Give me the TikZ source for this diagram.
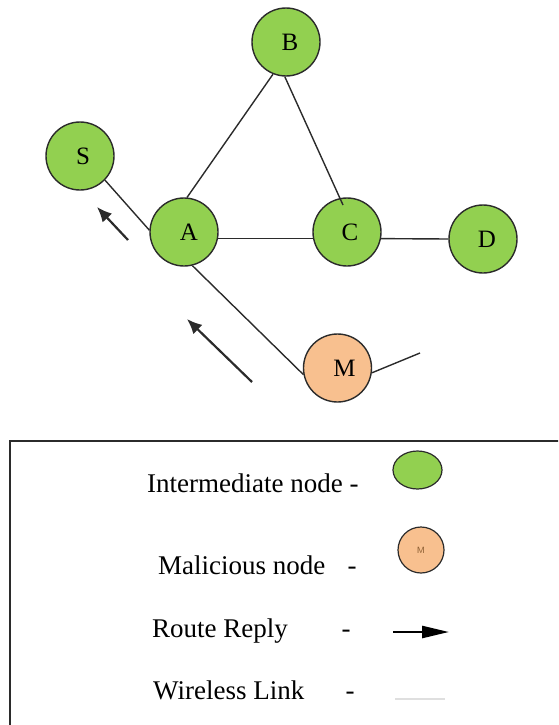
\documentclass[tikz,border=0pt]{standalone}
\usepackage{fontspec}
\setmainfont{Liberation Serif}
\usetikzlibrary{arrows.meta,calc,shapes.geometric}
\definecolor{nodegreen}{HTML}{92D050}
\definecolor{nodeorange}{HTML}{F8C08F}
\definecolor{edgecol}{HTML}{2B2B2B}
\begin{document}
\begin{tikzpicture}[x=1pt,y=-1pt,
  netnode/.style={circle,draw=edgecol,line width=1.4pt,minimum size=68pt,inner sep=0pt,
    font=\fontsize{25}{28}\selectfont},
  goodnode/.style={netnode,fill=nodegreen},
  badnode/.style={netnode,fill=nodeorange},
  link/.style={draw=edgecol,line width=1.4pt},
  reply/.style={draw=edgecol,line width=2.2pt,-{Latex[length=15pt,width=13pt]}},
  legtext/.style={anchor=base west,inner sep=0pt,font=\fontsize{27}{30}\selectfont},
  legdash/.style={anchor=base,inner sep=0pt,font=\fontsize{27}{30}\selectfont}
]
\path[use as bounding box] (0,0) rectangle (558,725);
\clip (0,0) rectangle (558,725);

% network nodes
\node[goodnode] (S) at (80,156) {\hspace*{6pt}S};
\node[goodnode] (B) at (286,42) {\hspace*{8pt}B};
\node[goodnode] (A) at (184,232) {\hspace*{10pt}A};
\node[goodnode] (C) at (347,232) {\hspace*{6pt}C};
\node[goodnode] (D) at (483,239) {\hspace*{8pt}D};
\node[badnode] (M) at (337.5,368) {\hspace*{14pt}M};

\coordinate (Cin) at (343,205);
\coordinate (Mfree) at (420,353);

% wireless links
\path[link] (A.85) -- (B.-112);
\path[link] (B.-92) -- (Cin);
\path[link] (A.-11) -- (C.191);
\path[link] (C.-11) -- (D.west);
\path[link] (S.-44) -- (A.177);
\path[link] (A.-76) -- (M.191);
\path[link] (M.-8) -- (Mfree);

% route reply arrows
\coordinate (r1s) at (128,240);
\coordinate (r1e) at (97,207);
\coordinate (r2s) at (252,382);
\coordinate (r2e) at (187,319);
\draw[reply] (r1s) -- (r1e);
\draw[reply] (r2s) -- (r2e);

% legend
\draw[draw=edgecol,line width=1.8pt] (10,441) rectangle (600,760);
\node[legtext] (t1) at (147,492) {Intermediate node -};
\node[draw=edgecol,line width=1.2pt,fill=nodegreen,ellipse,minimum width=49pt,minimum height=38pt,inner sep=0pt] (e1) at (417.5,470) {};
\node[legtext] (t2) at (158,574) {Malicious node};
\node[legdash] (d2) at (352,574) {-};
\node[circle,draw=edgecol,line width=1.2pt,fill=nodeorange,minimum size=46pt,inner sep=0pt,
  font=\sffamily\fontsize{9}{10}\selectfont,text=brown!70!black] (e2) at (421,550) {M};
\node[legtext] (t3) at (152,637) {Route Reply};
\node[legdash] (d3) at (346,637) {-};
\coordinate (a3s) at (393,632);
\coordinate (a3e) at (449,632);
\draw[draw=black,line width=2.5pt,-{Triangle[length=27pt,width=12pt]}] (a3s) -- (a3e);
\node[legtext] (t4) at (153,699) {Wireless Link};
\node[legdash] (d4) at (350,699) {-};
\coordinate (l4s) at (395,699);
\coordinate (l4e) at (445,699);
\draw[draw=gray!25,line width=1.2pt] (l4s) -- (l4e);
\end{tikzpicture}
\end{document}
